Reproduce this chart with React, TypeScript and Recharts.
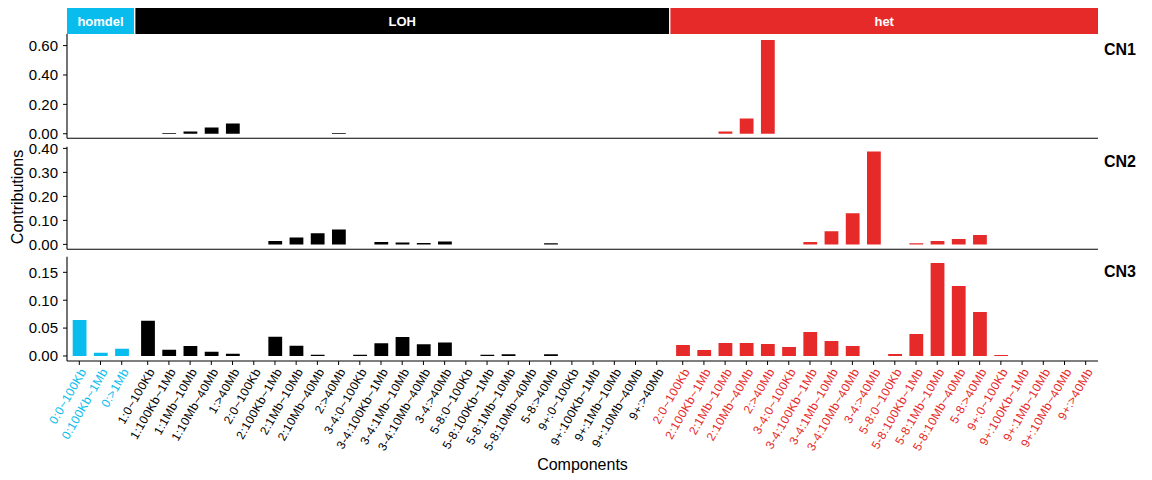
import React from 'react';
import { BarChart, Bar, XAxis, YAxis, Cell, ReferenceArea } from 'recharts';

// ---------- categories ----------
const homdelLabels = ['0:0~100Kb', '0:100Kb~1Mb', '0:>1Mb'];
const lohLabels = [
  '1:0~100Kb', '1:100Kb~1Mb', '1:1Mb~10Mb', '1:10Mb~40Mb', '1:>40Mb',
  '2:0~100Kb', '2:100Kb~1Mb', '2:1Mb~10Mb', '2:10Mb~40Mb', '2:>40Mb',
  '3-4:0~100Kb', '3-4:100Kb~1Mb', '3-4:1Mb~10Mb', '3-4:10Mb~40Mb', '3-4:>40Mb',
  '5-8:0~100Kb', '5-8:100Kb~1Mb', '5-8:1Mb~10Mb', '5-8:10Mb~40Mb', '5-8:>40Mb',
  '9+:0~100Kb', '9+:100Kb~1Mb', '9+:1Mb~10Mb', '9+:10Mb~40Mb', '9+:>40Mb',
];
const hetLabels = [
  '2:0~100Kb', '2:100Kb~1Mb', '2:1Mb~10Mb', '2:10Mb~40Mb', '2:>40Mb',
  '3-4:0~100Kb', '3-4:100Kb~1Mb', '3-4:1Mb~10Mb', '3-4:10Mb~40Mb', '3-4:>40Mb',
  '5-8:0~100Kb', '5-8:100Kb~1Mb', '5-8:1Mb~10Mb', '5-8:10Mb~40Mb', '5-8:>40Mb',
  '9+:0~100Kb', '9+:100Kb~1Mb', '9+:1Mb~10Mb', '9+:10Mb~40Mb', '9+:>40Mb',
];
const groupNames = ['homdel', 'LOH', 'het'];
const groupColors = ['#08BDEE', '#000000', '#E62A2A'];

// ---------- series values (homdel 3, LOH 25, het 20) ----------
const cn1Values = [
  0, 0, 0,
  0, 0.005, 0.016, 0.043, 0.07,
  0, 0, 0, 0, 0.005,
  0, 0, 0, 0, 0,
  0, 0, 0, 0, 0,
  0, 0, 0, 0, 0,
  0, 0, 0.015, 0.104, 0.639,
  0, 0, 0, 0, 0,
  0, 0, 0, 0, 0,
  0, 0, 0, 0, 0,
];
const cn2Values = [
  0, 0, 0,
  0, 0, 0, 0, 0,
  0, 0.014, 0.029, 0.046, 0.0625,
  0, 0.01, 0.008, 0.006, 0.012,
  0, 0, 0, 0, 0.005,
  0, 0, 0, 0, 0,
  0, 0, 0, 0, 0,
  0, 0.01, 0.055, 0.13, 0.3875,
  0, 0.005, 0.014, 0.022, 0.039,
  0, 0, 0, 0, 0,
];
const cn3Values = [
  0.0645, 0.006, 0.013,
  0.063, 0.011, 0.018, 0.0077, 0.004,
  0, 0.0346, 0.0185, 0.002, 0,
  0.002, 0.023, 0.034, 0.021, 0.024,
  0, 0.002, 0.003, 0, 0.003,
  0, 0, 0, 0, 0,
  0.0197, 0.0108, 0.0233, 0.0233, 0.0215,
  0.016, 0.043, 0.027, 0.018, 0,
  0.0036, 0.0394, 0.1667, 0.1254, 0.0789,
  0.0018, 0, 0, 0, 0,
];

// ---------- axis ticks ----------
const cn1Ticks = [0, 0.2, 0.4, 0.6];
const cn2Ticks = [0, 0.1, 0.2, 0.3, 0.4];
const cn3Ticks = [0, 0.05, 0.1, 0.15];

// ---------- build table (facet layout: small expansion + gap between groups) ----------
const EXP = 0.08;
const GAP = 0.065;
const groupLabelLists = [homdelLabels, lohLabels, hetLabels];
type Row = { label: string; group: number; pos: number; cn1: number; cn2: number; cn3: number };
const data: Row[] = [];
const bounds: [number, number][] = [];
let cursor = 0;
let idx = 0;
groupLabelLists.forEach((labels, g) => {
  const x1 = cursor;
  labels.forEach((lab, k) => {
    data.push({ label: lab, group: g, pos: x1 + EXP + k + 0.5, cn1: cn1Values[idx], cn2: cn2Values[idx], cn3: cn3Values[idx] });
    idx++;
  });
  const x2 = x1 + labels.length + 2 * EXP;
  bounds.push([x1, x2]);
  cursor = x2 + GAP;
});
const XMAX = cursor - GAP;
const positions = data.map((d) => d.pos);

const FONT = '"Liberation Sans", Arial, Helvetica, sans-serif';
const W = 1152;
const H = 480;
const LEFT = 67;
const RIGHT = 54;

const XTick = (props: any) => {
  const { x, y, payload } = props;
  const d = data.find((r) => Math.abs(r.pos - payload.value) < 1e-6);
  if (!d) return null;
  return (
    <text
      x={0}
      y={0}
      dy="0.72em"
      transform={`translate(${x},${y}) rotate(-60)`}
      textAnchor="end"
      fill={groupColors[d.group]}
      fontSize={12}
      letterSpacing={0.4}
      fontFamily={FONT}
    >
      {d.label}
    </text>
  );
};

const fmt = (v: number) => v.toFixed(2);

type PanelProps = {
  dataKey: 'cn1' | 'cn2' | 'cn3';
  top: number;
  bottom: number;
  domain: [number, number];
  ticks: number[];
  showX: boolean;
};

const Panel = ({ dataKey, top, bottom, domain, ticks, showX }: PanelProps) => (
  <div style={{ position: 'absolute', left: 0, top: 0 }}>
    <BarChart width={W} height={H} data={data} margin={{ top, right: RIGHT, left: 0, bottom: 0 }}>
      <XAxis
        type="number"
        dataKey="pos"
        domain={[0, XMAX]}
        allowDataOverflow
        ticks={positions}
        interval={0}
        height={H - bottom}
        axisLine={{ stroke: '#000', strokeWidth: 1.1 }}
        tickLine={showX ? { stroke: '#000', strokeWidth: 1 } : false}
        tickSize={4}
        tickMargin={2}
        tick={showX ? <XTick /> : false}
        label={
          showX
            ? { value: 'Components', position: 'insideBottom', offset: 10, fill: '#000', fontSize: 16, fontFamily: FONT }
            : undefined
        }
      />
      <YAxis
        type="number"
        width={LEFT}
        domain={domain}
        allowDataOverflow
        ticks={ticks}
        interval={0}
        tickFormatter={fmt}
        axisLine={{ stroke: '#000', strokeWidth: 1.1 }}
        tickLine={{ stroke: '#000', strokeWidth: 1 }}
        tickSize={4}
        tickMargin={5}
        tick={{ fill: '#000', fontSize: 15, fontFamily: FONT }}
      />
      <Bar dataKey={dataKey} barSize={13.8} isAnimationActive={false}>
        {data.map((d, i) => (
          <Cell key={i} fill={groupColors[d.group]} />
        ))}
      </Bar>
    </BarChart>
  </div>
);

const StripHeader = () => (
  <div style={{ position: 'absolute', left: 0, top: 8 }}>
    <BarChart width={W} height={26} data={data} margin={{ top: 0, right: RIGHT, left: LEFT, bottom: 0 }}>
      <XAxis type="number" dataKey="pos" domain={[0, XMAX]} allowDataOverflow hide />
      <YAxis type="number" domain={[0, 1]} allowDataOverflow hide />
      {bounds.map((b, g) => (
        <ReferenceArea
          key={g}
          x1={b[0]}
          x2={b[1]}
          y1={0}
          y2={1}
          fill={groupColors[g]}
          fillOpacity={1}
          stroke="none"
          ifOverflow="visible"
          label={{ value: groupNames[g], position: 'center', fill: '#fff', fontSize: 13, fontWeight: 'bold', fontFamily: FONT }}
        />
      ))}
    </BarChart>
  </div>
);

const facetLabels = ['CN1', 'CN2', 'CN3'];
const facetBaselines = [55, 167, 277];

export default function App() {
  return (
    <div style={{ position: 'absolute', left: 0, top: 0, width: W, height: H, background: '#fff', fontFamily: FONT }}>
      <StripHeader />
      <Panel dataKey="cn1" top={34} bottom={138.3} domain={[-0.031, 0.679]} ticks={cn1Ticks} showX={false} />
      <Panel dataKey="cn2" top={146.7} bottom={249.3} domain={[-0.0205, 0.407]} ticks={cn2Ticks} showX={false} />
      <Panel dataKey="cn3" top={256.7} bottom={361} domain={[-0.009, 0.178]} ticks={cn3Ticks} showX={true} />
      <svg width={W} height={H} style={{ position: 'absolute', left: 0, top: 0, pointerEvents: 'none' }}>
        <text
          transform="translate(22.5,197) rotate(-90)"
          textAnchor="middle"
          fontSize={16}
          fontFamily={FONT}
          fill="#000"
        >
          Contributions
        </text>
        {facetLabels.map((t, i) => (
          <text key={t} x={1104} y={facetBaselines[i]} fontSize={16} fontWeight="bold" fontFamily={FONT} fill="#000">
            {t}
          </text>
        ))}
      </svg>
    </div>
  );
}
